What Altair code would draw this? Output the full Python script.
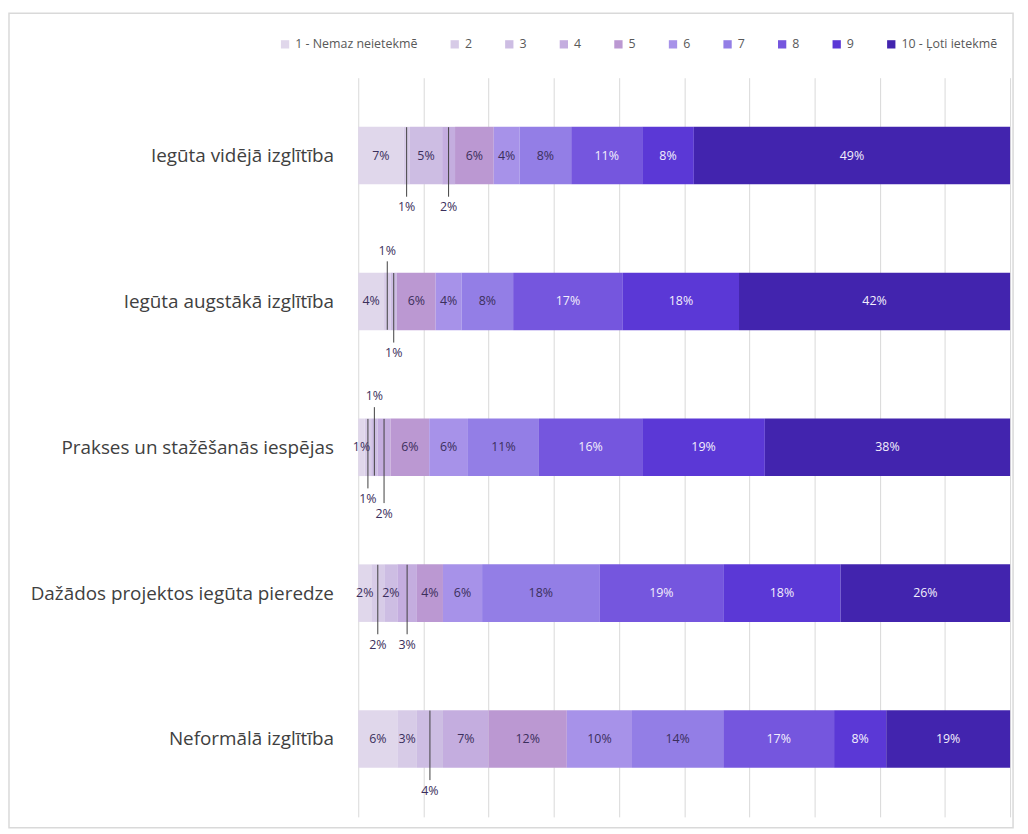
import altair as alt
import pandas as pd

categories = [
    "Iegūta vidējā izglītība",
    "Iegūta augstākā izglītība",
    "Prakses un stažēšanās iespējas",
    "Dažādos projektos iegūta pieredze",
    "Neformālā izglītība",
]
levels = ["1 - Nemaz neietekmē", "2", "3", "4", "5", "6", "7", "8", "9", "10 - Ļoti ietekmē"]

row1 = [7, 1, 5, 2, 6, 4, 8, 11, 8, 49]
row2 = [4, 1, 1, 0, 6, 4, 8, 17, 18, 42]
row3 = [1, 1, 1, 2, 6, 6, 11, 16, 19, 38]
row4 = [2, 2, 2, 3, 4, 6, 18, 19, 18, 26]
row5 = [6, 3, 4, 7, 12, 10, 14, 17, 8, 19]
rows = [row1, row2, row3, row4, row5]

# where each data label sits: in the bar, above it, or below it (with leader line)
place1 = ["in", "down", "in", "down", "in", "in", "in", "in", "in", "in"]
place2 = ["in", "up", "down", "in", "in", "in", "in", "in", "in", "in"]
place3 = ["in", "down", "up", "down2", "in", "in", "in", "in", "in", "in"]
place4 = ["in", "down", "in", "down", "in", "in", "in", "in", "in", "in"]
place5 = ["in", "in", "down", "in", "in", "in", "in", "in", "in", "in"]
places = [place1, place2, place3, place4, place5]

colors = ["#e0d7eb", "#d7cbe7", "#cdbde3", "#c4addf", "#bb98d2",
          "#a792e9", "#937ee6", "#7556de", "#5b38d6", "#4224ae"]
dark_text = "#3b2f5c"
light_text = "#f3effc"

STEP = 149.0   # px per category band
HALF = 29.0    # half bar thickness, px
label_off = {"in": 0.0, "up": -52.0, "down": 53.0, "down2": 68.0}

recs = []
for i, (cat, vals, pl) in enumerate(zip(categories, rows, places)):
    total = float(sum(vals))
    cum = 0.0
    for j, v in enumerate(vals):
        s = cum / total
        cum += v
        e = cum / total
        p = pl[j]
        off = label_off[p]
        if p == "up":
            r0, r1 = HALF, off + 11
        elif p in ("down", "down2"):
            r0, r1 = -HALF, off - 11
        else:
            r0, r1 = 0.0, 0.0
        recs.append({
            "cat": cat, "pos": i, "level": levels[j], "value": v,
            "start": s, "end": e, "mid": (s + e) / 2,
            "label": f"{v}%", "place": p,
            "ly": i + off / STEP, "r0": i + r0 / STEP, "r1": i + r1 / STEP,
            "tc": light_text if (j >= 7 and p == "in") else dark_text,
        })
df = pd.DataFrame(recs)
df_lab = df[df["value"] > 0]
df_lead = df_lab[df_lab["place"] != "in"]

yscale = alt.Scale(domain=[-0.5, 4.5], reverse=True, nice=False, zero=False)
xscale = alt.Scale(domain=[0, 1], nice=False, zero=False)
label_expr = "[" + ",".join(f"'{c}'" for c in categories) + "][datum.value]"

yaxis = alt.Axis(values=[0, 1, 2, 3, 4], labelExpr=label_expr, title=None, grid=False,
                 ticks=False, domain=False, labelFontSize=19, labelColor="#404040",
                 labelPadding=25, labelFont="Open Sans", labelLimit=400)
xaxis = alt.Axis(values=[i / 10 for i in range(11)], labels=False, ticks=False,
                 domain=False, grid=True, gridColor="#d9d9d9", gridWidth=1, title=None)

bars = alt.Chart(df).mark_bar(size=58, orient="horizontal").encode(
    y=alt.Y("pos:Q", scale=yscale, axis=yaxis, title=None),
    x=alt.X("start:Q", scale=xscale, axis=xaxis, title=None),
    x2="end:Q",
    color=alt.Color("level:N", sort=levels,
                    scale=alt.Scale(domain=levels, range=colors),
                    legend=alt.Legend(
                        title=None, orient="none", legendX=-80, legendY=-40,
                        direction="horizontal", columns=10, symbolType="square",
                        symbolSize=70, symbolStrokeWidth=0, labelFontSize=12.5,
                        labelColor="#595959", labelFont="Open Sans",
                        columnPadding=31, labelOffset=4, labelLimit=300)),
    order=alt.Order("start:Q"),
)

leaders = alt.Chart(df_lead).mark_rule(color="#404040", strokeWidth=1).encode(
    x=alt.X("mid:Q", scale=xscale, axis=xaxis, title=None),
    y=alt.Y("r0:Q", scale=yscale, axis=yaxis, title=None),
    y2="r1:Q",
)

texts = alt.Chart(df_lab).mark_text(fontSize=12.5, font="Open Sans").encode(
    x=alt.X("mid:Q", scale=xscale, axis=xaxis, title=None),
    y=alt.Y("ly:Q", scale=yscale, axis=yaxis, title=None),
    text="label:N",
    color=alt.Color("tc:N", scale=None, legend=None),
)

frame = alt.Chart(pd.DataFrame({"a": [0]})).mark_rect(
    fill="transparent", stroke="#d9d9d9", strokeWidth=1.5).encode(
    x=alt.value(-352), x2=alt.value(660), y=alt.value(-65), y2=alt.value(756))

chart = alt.layer(frame, bars, leaders, texts).resolve_scale(
    color="independent").properties(
    width=657, height=745,
    autosize=alt.AutoSizeParams(type="none"),
    padding={"left": 353, "top": 67, "right": 10, "bottom": 14},
).configure(font="Open Sans", background="white").configure_view(stroke=None)

chart.save("out.html", embed_options={"renderer": "svg", "actions": False})
